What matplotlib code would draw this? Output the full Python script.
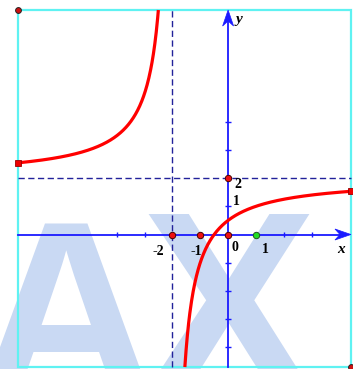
import numpy as np
import matplotlib
matplotlib.use("Agg")
import matplotlib.pyplot as plt
from matplotlib.patches import Polygon, Rectangle

# graph of y = (2x + 1) / (x + 2) = 2 - 3 / (x + 2)
ASYM_X = -2
ASYM_Y = 2
K = -3

# viewing window (the cyan frame)
BOX_X = (-7.54, 4.41)
BOX_Y = (-4.70, 7.96)

x_ticks = [-4, -3, -2, -1, 0, 1, 2, 3]
y_ticks = [-4, -3, -2, -1, 1, 2, 3, 4]

red_points_x = [-2, -1, 0, 0]
red_points_y = [0, 0, 0, 2]
green_points_x = [1]
green_points_y = [0]

# (text, anchor x, anchor y, offset px)
labels = [("-2", -2, 0, (-14, -17)),
          ("-1", -1, 0, (-4, -17)),
          ("0", 0, 0, (7, -13)),
          ("1", 1, 0, (9, -15)),
          ("2", 0, 2, (10, -6)),
          ("1", 0, 1, (8, 5))]

UX, UY = 27.86, 28.2      # pixels per unit
X0, Y0 = 228.1, 234.5     # pixel position of the origin
W, H = 353, 369


def f(x):
    return ASYM_Y + K / (x - ASYM_X)


fig = plt.figure(figsize=(W / 100, H / 100), dpi=100)
ax = fig.add_axes([0, 0, 1, 1])
ax.set_xlim(-X0 / UX, (W - X0) / UX)
ax.set_ylim((Y0 - H) / UY, Y0 / UY)
ax.axis("off")

# watermark, behind everything
wm = dict(fontweight="bold", family="Liberation Sans",
          color="#c9d9f3", ha="center", va="baseline", zorder=0,
          transform=fig.transFigure, clip_on=False)
ax.text(66 / W, (H - 396) / H, "A", fontsize=180, **wm)
ax.text(229 / W, (H - 396) / H, "X", fontsize=190, **wm)

# frame
ax.add_patch(Rectangle((BOX_X[0], BOX_Y[0]), BOX_X[1] - BOX_X[0], BOX_Y[1] - BOX_Y[0],
                       fill=False, ec="#5ff2f2", lw=1.6, zorder=2))

# asymptotes
ax.plot([ASYM_X, ASYM_X], BOX_Y, color="#22229a", lw=1.0, dashes=(4.5, 2.5), zorder=3)
ax.plot(BOX_X, [ASYM_Y, ASYM_Y], color="#22229a", lw=1.0, dashes=(4.5, 2.5), zorder=3)

# coordinate axes
blue = "#1a1aff"
ax.plot([BOX_X[0], BOX_X[1] - 10 / UX], [0, 0], color=blue, lw=1.3, zorder=4)
ax.plot([0, 0], [BOX_Y[0], BOX_Y[1] - 10 / UY], color=blue, lw=1.3, zorder=4)
ax.vlines(x_ticks, -2.5 / UY, 2.5 / UY, color=blue, lw=1.0, zorder=4)
ax.hlines(y_ticks, -3 / UX, 3 / UX, color=blue, lw=1.0, zorder=4)

tip_x = np.array([(0, 0), (-16, 5.5), (-11, 0), (-16, -5.5)])
ax.add_patch(Polygon(np.column_stack([BOX_X[1] + tip_x[:, 0] / UX, tip_x[:, 1] / UY]),
                     closed=True, fc=blue, ec=blue, lw=0.5, zorder=5))
ax.add_patch(Polygon(np.column_stack([tip_x[:, 1] / UX, BOX_Y[1] + tip_x[:, 0] / UY]),
                     closed=True, fc=blue, ec=blue, lw=0.5, zorder=5))

# the two branches, clipped to the frame
x_top = ASYM_X + K / (BOX_Y[1] - ASYM_Y)
x_bot = ASYM_X + K / (BOX_Y[0] - ASYM_Y)
xl = np.linspace(BOX_X[0], x_top, 400)
xr = np.linspace(x_bot, BOX_X[1], 400)
for xs in (xl, xr):
    ax.plot(xs, f(xs), color="#ff0000", lw=2.3, solid_capstyle="butt", zorder=6)
ax.plot([BOX_X[0], BOX_X[1]], [f(BOX_X[0]), f(BOX_X[1])], ls="none", marker="s",
        ms=4.2, mfc="#ee0000", mec="#990000", mew=0.6, zorder=7)

# points
ax.plot(red_points_x, red_points_y, ls="none", marker="o", ms=4.6,
        mfc="#ee1111", mec="#4a0000", mew=0.7, zorder=8)
ax.plot(green_points_x, green_points_y, ls="none", marker="o", ms=4.6,
        mfc="#22dd22", mec="#225522", mew=0.7, zorder=8)
ax.plot([BOX_X[0], BOX_X[1]], [BOX_Y[1], BOX_Y[0]], ls="none", marker="o", ms=4.2,
        mfc="#cc1111", mec="#222222", mew=0.7, zorder=8, clip_on=False)

# labels
for txt, lx, ly, off in labels:
    ax.annotate(txt, (lx, ly), xytext=off, textcoords="offset pixels",
                ha="center", va="center", fontsize=10, fontweight="bold",
                family="Liberation Serif", zorder=9)
ax.annotate("x", (BOX_X[1], 0), xytext=(-9.5, -14.5), textcoords="offset pixels",
            ha="center", va="center", fontsize=11, fontweight="bold", style="italic",
            family="Liberation Serif", zorder=9)
ax.annotate("y", (0, BOX_Y[1]), xytext=(10.5, -9), textcoords="offset pixels",
            ha="center", va="center", fontsize=11, fontweight="bold", style="italic",
            family="Liberation Serif", zorder=9)

fig.savefig("out.png", dpi=100)
